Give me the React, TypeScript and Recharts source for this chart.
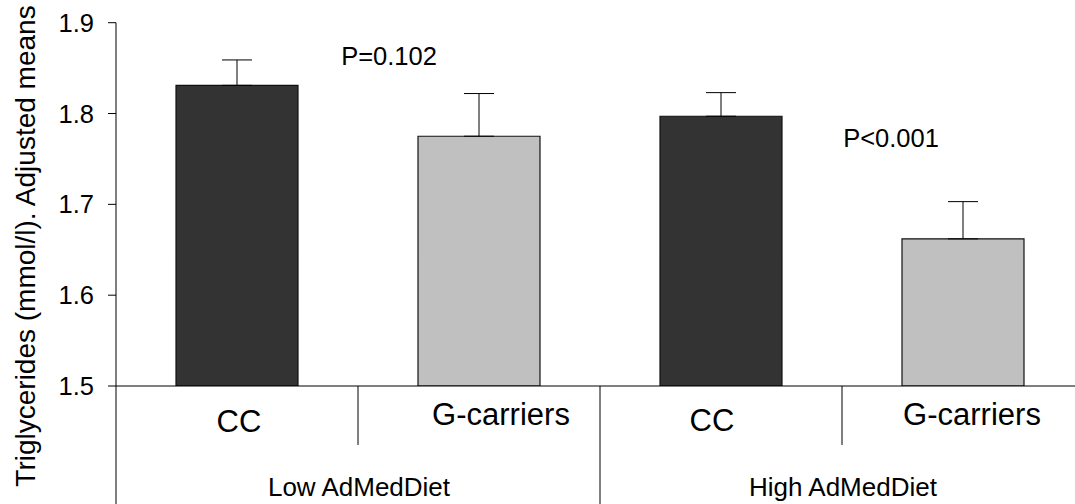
import { Bar, BarChart, Cell, ErrorBar, ReferenceDot, XAxis, YAxis } from "recharts";

const categories = ["CC", "G-carriers", "CC", "G-carriers"];
const groups = ["Low AdMedDiet", "High AdMedDiet"];
const means = [1.831, 1.775, 1.797, 1.662];
const sem = [0.028, 0.047, 0.026, 0.041];
const yTicks = [1.5, 1.6, 1.7, 1.8, 1.9];
const pTexts = ["P=0.102", "P<0.001"];
const pLevels = [1.853, 1.763];

const FONT = "'Liberation Sans', Arial, Helvetica, sans-serif";
const DARK = "#333333";
const LIGHT = "#c0c0c0";

// small nudges so the axis text sits where the original put it
const labelShift = [2, 22, -9, 9];
const labelDrop = [46, 39, 45, 39];
const pShift = [152, 170];

const rows = categories.map((cat, i) => ({
    key: `${groups[Math.floor(i / 2)]}|${cat}|${i}`,
    mean: means[i],
    err: [0, sem[i]],
}));

function CategoryTick(props: any) {
    const { x, y, payload, index } = props;
    const half = payload?.offset ?? 121;
    const left = x - half;
    const groupStart = index % 2 === 0;
    return (
        <g>
            <line x1={left} x2={left} y1={y} y2={y + (groupStart ? 118 : 59)} stroke="#000" strokeWidth={1} />
            <text
                x={x + labelShift[index]}
                y={y + labelDrop[index]}
                textAnchor="middle"
                fontSize={31}
                fontFamily={FONT}
                fill="#000"
            >
                {categories[index]}
            </text>
            {!groupStart && (
                <text x={left + 1} y={y + 110} textAnchor="middle" fontSize={26} fontFamily={FONT} fill="#000">
                    {groups[(index - 1) / 2]}
                </text>
            )}
        </g>
    );
}

const yLabel = (props: any) => {
    const vb = props.viewBox || { x: 0 };
    const x = vb.x + 35;
    const y = 246;
    return (
        <text
            x={x}
            y={y}
            transform={`rotate(-90, ${x}, ${y})`}
            textAnchor="middle"
            fontSize={28}
            fontFamily={FONT}
            fill="#000"
        >
            Triglycerides (mmol/l). Adjusted means
        </text>
    );
};

const pShape = (i: number) => (props: any) => (
    <text x={props.cx + pShift[i]} y={props.cy} textAnchor="middle" fontSize={25.5} fontFamily={FONT} fill="#000">
        {pTexts[i]}
    </text>
);

export default function App() {
    return (
        <div
            style={{
                position: "absolute",
                left: 0,
                top: 0,
                width: 1075,
                height: 504,
                overflow: "hidden",
                background: "#fff",
            }}
        >
            <BarChart width={1100} height={504} data={rows} margin={{ top: 22.7, right: 16, bottom: 0, left: 0 }}>
                <XAxis
                    dataKey="key"
                    height={118}
                    interval={0}
                    tickLine={false}
                    tickSize={0}
                    tickMargin={0}
                    axisLine={{ stroke: "#000", strokeWidth: 1 }}
                    tick={<CategoryTick />}
                />
                <YAxis
                    width={116}
                    domain={[1.5, 1.9]}
                    ticks={yTicks}
                    allowDataOverflow
                    tickSize={8}
                    tickMargin={14}
                    tickFormatter={(v: number) => v.toFixed(1)}
                    tick={{ fill: "#000", fontSize: 25.5, fontFamily: FONT }}
                    tickLine={{ stroke: "#000" }}
                    axisLine={{ stroke: "#000", strokeWidth: 1 }}
                    label={yLabel}
                />
                <Bar dataKey="mean" barSize={122} stroke="#111" strokeWidth={1.2} isAnimationActive={false}>
                    {rows.map((r, i) => (
                        <Cell key={r.key} fill={i % 2 === 0 ? DARK : LIGHT} />
                    ))}
                    <ErrorBar dataKey="err" width={15} stroke="#000" strokeWidth={1} direction="y" />
                </Bar>
                {pTexts.map((t, i) => (
                    <ReferenceDot key={t} x={rows[i * 2].key} y={pLevels[i]} r={0} shape={pShape(i)} />
                ))}
            </BarChart>
        </div>
    );
}
